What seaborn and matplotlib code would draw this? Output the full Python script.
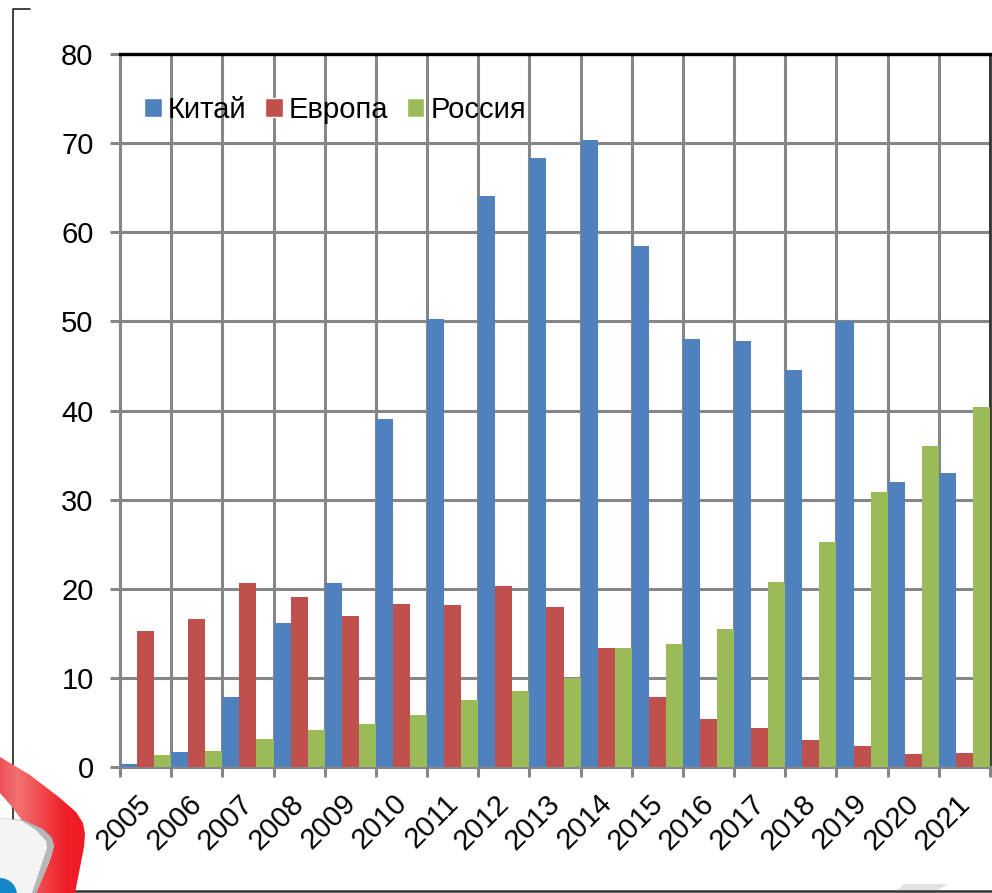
import matplotlib
matplotlib.use("Agg")
import matplotlib.pyplot as plt
from matplotlib.colors import LinearSegmentedColormap
from matplotlib.lines import Line2D
from matplotlib.patches import Patch, Polygon, Circle
from matplotlib.ticker import FixedLocator, NullFormatter
from matplotlib.transforms import ScaledTranslation
import numpy as np
import pandas as pd
import seaborn as sns

years = [str(y) for y in range(2005, 2022)]
china = [0.3, 1.7, 7.8, 16.2, 20.7, 39.1, 50.3, 64.1, 68.3, 70.3, 58.5, 48.0, 47.8, 44.6, 50.0, 32.0, 33.0]
europe = [15.3, 16.6, 20.7, 19.1, 16.9, 18.3, 18.2, 20.3, 17.9, 13.4, 7.8, 5.4, 4.4, 3.0, 2.4, 1.5, 1.6]
russia = [1.4, 1.8, 3.1, 4.2, 4.8, 5.8, 7.5, 8.5, 10.0, 13.3, 13.8, 15.5, 20.8, 25.3, 30.8, 36.0, 40.4]
series_names = ["Китай", "Европа", "Россия"]
colors = ["#4f81bd", "#c0504d", "#9bbb59"]

W, H = 992, 893
GRID = "#868686"
FONT_SIZE = 21

df = pd.DataFrame({"year": years, "Китай": china, "Европа": europe, "Россия": russia})
df = df.melt(id_vars="year", var_name="region", value_name="value")

sns.set_theme(style="white")
plt.rcParams["font.family"] = ["Liberation Sans", "DejaVu Sans"]

fig = plt.figure(figsize=(W / 100, H / 100), dpi=100)
ax = fig.add_axes([120 / W, 1 - 767 / H, 870 / W, 713 / H])

sns.barplot(
    data=df, x="year", y="value", hue="region", hue_order=series_names,
    palette=colors, width=1.0, gap=0, saturation=1, legend=False, ax=ax,
    linewidth=0, zorder=3,
)

ax.set_xlim(-0.5, len(years) - 0.5)
ax.set_ylim(0, 80)
ax.set_xlabel("")
ax.set_ylabel("")
ax.set_yticks(range(0, 81, 10))
ax.set_axisbelow(True)

# ticks sit on category edges, labels on the centres
edges = [i - 0.5 for i in range(len(years) + 1)]
ax.xaxis.set_major_locator(FixedLocator(edges))
ax.xaxis.set_major_formatter(NullFormatter())
ax.set_xticks(range(len(years)), years, minor=True)
ax.tick_params(axis="x", which="minor", bottom=False, pad=12, labelsize=FONT_SIZE, labelcolor="black")
shift = ScaledTranslation(-9 / 100, 0, fig.dpi_scale_trans)
for label in ax.get_xticklabels(minor=True):
    label.set(rotation=45, ha="right", rotation_mode="anchor")
    label.set_transform(label.get_transform() + shift)
ax.tick_params(axis="x", which="major", bottom=True, length=7, width=2.2, color=GRID)
ax.tick_params(axis="y", left=True, length=7, width=2.2, color=GRID, labelsize=FONT_SIZE, labelcolor="black", pad=12)

ax.grid(True, which="major", axis="both", color=GRID, linewidth=2.2)
for side in ["left", "bottom"]:
    ax.spines[side].set_color(GRID)
    ax.spines[side].set_linewidth(2.2)
ax.spines["top"].set_color("black")
ax.spines["top"].set_linewidth(2.4)
ax.spines["right"].set_color("#333333")
ax.spines["right"].set_linewidth(2.0)

handles = [Patch(facecolor=c, label=n) for c, n in zip(colors, series_names)]
ax.legend(
    handles=handles, loc="upper left", bbox_to_anchor=(0.011, 0.962), ncol=3, frameon=False,
    fontsize=FONT_SIZE, handlelength=0.6, handleheight=0.6, handletextpad=0.2,
    columnspacing=0.65, borderpad=0, labelcolor="black",
)

# slide frame and logo corner around the chart, in pixel coordinates
overlay = fig.add_axes([0, 0, 1, 1], zorder=10)
overlay.axis("off")
overlay.add_line(Line2D([30, 13, 13], [9, 9, 822], color="#222222", linewidth=1.2))
overlay.add_line(Line2D([75, 992], [891, 891], color="#333333", linewidth=1.8))

red_shape = Polygon(
    [(0, 757), (30, 775), (60, 798), (76, 812), (83, 823), (85, 834), (84, 847), (75, 893),
     (36, 893), (50, 860), (54, 846), (50, 836), (40, 829), (23, 822), (13, 808), (0, 793)],
    closed=True, facecolor="none", edgecolor="none",
)
overlay.add_patch(red_shape)
red_fade = LinearSegmentedColormap.from_list(
    "red_fade", [(0, "#ef5058"), (0.2, "#f27272"), (0.75, "#ee1c25"), (1, "#ee1c25")]
)
gradient = overlay.imshow(
    np.linspace(0, 1, 100).reshape(1, -1), cmap=red_fade, extent=(0, 90, 893, 750),
    aspect="auto", zorder=2,
)
gradient.set_clip_path(red_shape)
# imshow would otherwise shrink the limits to the gradient
overlay.set_xlim(0, W)
overlay.set_ylim(H, 0)
overlay.add_patch(Polygon(
    [(0, 818), (23, 820), (43, 829), (52, 838), (54, 846), (50, 860), (36, 893), (0, 893)],
    closed=True, facecolor="#b5b7ba", edgecolor="none", zorder=3,
))
overlay.add_patch(Polygon(
    [(0, 818), (22, 821), (36, 830), (46, 841), (47, 848), (32, 893), (0, 893)],
    closed=True, facecolor="#f4f4f4", edgecolor="none", zorder=4,
))
overlay.add_patch(Circle((0, 895), 17, facecolor="#1487c9", edgecolor="none", zorder=5))
overlay.add_patch(Polygon(
    [(898, 890), (904, 884), (948, 884), (938, 890)],
    closed=True, facecolor="#e2e2e2", edgecolor="none", zorder=2,
))

fig.savefig("out.png", dpi=100)
